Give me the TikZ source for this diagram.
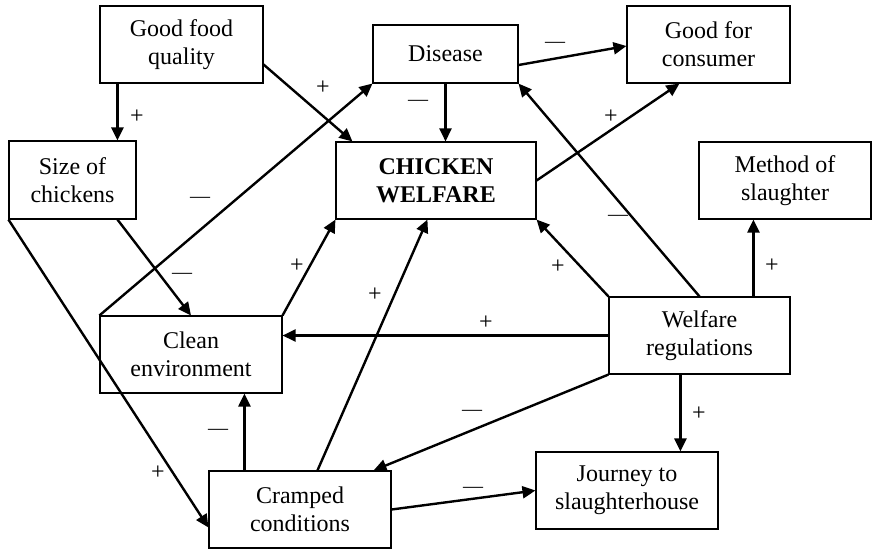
\documentclass[tikz,border=0pt]{standalone}
\usepackage{fontspec}
\setmainfont{Liberation Serif}
\usetikzlibrary{arrows.meta}

\begin{document}
\begin{tikzpicture}[x=1pt,y=-1pt,
	factor/.style={draw,line width=1.1pt,align=center,inner sep=0pt,font=\fontsize{24}{28}\selectfont},
	link/.style={line width=2.4pt,-{Triangle[length=13pt,width=12pt]}},
	sign/.style={inner sep=0pt,font=\fontsize{24}{28}\selectfont},
	minus/.style={inner sep=0pt,font=\fontsize{20}{24}\selectfont}]
	\useasboundingbox (0,0) rectangle (872,550);
	\node[factor,minimum width=163,minimum height=77] (food) at (181.5,44.5) {Good food\\quality};
	\node[factor,minimum width=127,minimum height=78] (size) at (72.5,180) {Size of\\chickens};
	\node[factor,minimum width=145,minimum height=58] (disease) at (445.5,54) {Disease};
	\node[factor,minimum width=200,minimum height=77,font=\fontsize{24}{28}\selectfont\bfseries] (welfare) at (436,180.5) {CHICKEN\\WELFARE};
	\node[factor,minimum width=163,minimum height=77] (consumer) at (708.5,44.5) {Good for\\consumer};
	\node[factor,minimum width=172,minimum height=77] (method) at (785,180.5) {Method of\\slaughter};
	\node[factor,minimum width=182,minimum height=77] (clean) at (191,354.5) {Clean\\environment};
	\node[factor,minimum width=182,minimum height=77] (cramped) at (300,509.5) {Cramped\\conditions};
	\node[factor,minimum width=181,minimum height=77] (regs) at (699.5,335.5) {Welfare\\regulations};
	\node[factor,minimum width=182,minimum height=77] (journey) at (627,490.5) {Journey to\\slaughterhouse};

	\draw[link] ([xshift=18]food.south west) -- ([xshift=109]size.north west);
	\draw[link] ([yshift=-20]food.east) -- ([xshift=17]welfare.north west);
	\draw[link] (disease.south) -- (disease.south |- welfare.north);
	\draw[link] ([yshift=-11]disease.east) -- ([yshift=-1.5]consumer.west);
	\draw[link] (welfare.east) -- ([xshift=53]consumer.south west);
	\draw[link] (size.south west) -- ([yshift=-18]cramped.west);
	\draw[link] ([xshift=109]size.south west) -- (clean.north);
	\draw[link] (clean.north west) -- (disease.south west);
	\draw[link] (clean.north east) -- (welfare.south west);
	\draw[link] ([xshift=109]cramped.north west) -- ([xshift=92]welfare.south west);
	\draw[link] ([xshift=36]cramped.north west) -- ([xshift=36]cramped.north west |- clean.south);
	\draw[link] (regs.north west) -- (welfare.south east);
	\draw[link] (regs.north) -- (disease.south east);
	\draw[link] ([xshift=145]regs.north west) -- ([xshift=145]regs.north west |- method.south);
	\draw[link] (regs.west) -- (regs.west -| clean.east);
	\draw[link] (regs.south west) -- ([xshift=-18]cramped.north east);
	\draw[link] ([xshift=72]regs.south west) -- ([xshift=72]regs.south west |- journey.north);
	\draw[link] (cramped.east) -- (journey.west);

	\node[sign] (s1) at (137,117) {+};
	\node[sign] (s2) at (323,88) {+};
	\node[minus] (s3) at (418,103) {---};
	\node[minus] (s4) at (555,45) {---};
	\node[sign] (s5) at (611,117) {+};
	\node[sign] (s6) at (158,473) {+};
	\node[minus] (s7) at (182,276) {---};
	\node[minus] (s8) at (200,200) {---};
	\node[sign] (s9) at (297,266) {+};
	\node[sign] (s10) at (375,295) {+};
	\node[minus] (s11) at (218,432) {---};
	\node[sign] (s12) at (558,267) {+};
	\node[minus] (s13) at (618,218) {---};
	\node[sign] (s14) at (772,266) {+};
	\node[sign] (s15) at (486,323) {+};
	\node[minus] (s16) at (472,413) {---};
	\node[sign] (s17) at (699,414) {+};
	\node[minus] (s18) at (473,490) {---};
\end{tikzpicture}
\end{document}
